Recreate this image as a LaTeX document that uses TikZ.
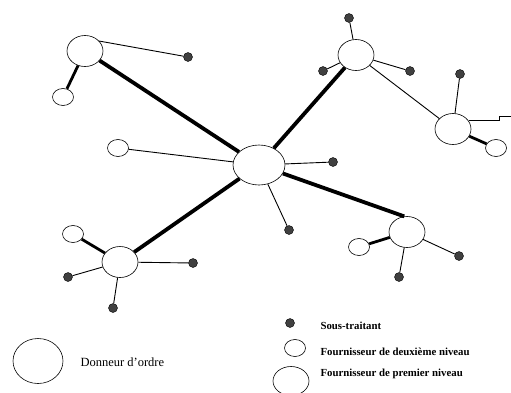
\documentclass[tikz,border=0pt]{standalone}
\usepackage{fontspec}
\setmainfont{Liberation Serif}
\usepackage{tikz}
\usetikzlibrary{shapes.geometric}
\tikzset{
  donneur/.style={ellipse,draw,semithick,fill=white,minimum width=52pt,minimum height=40pt,inner sep=0pt},
  premier/.style={ellipse,draw,semithick,fill=white,minimum width=36pt,minimum height=31pt,inner sep=0pt},
  deuxieme/.style={ellipse,draw,semithick,fill=white,minimum width=21pt,minimum height=17pt,inner sep=0pt},
  soustraitant/.style={circle,draw=black,fill=black!75,minimum size=9pt,inner sep=0pt},
  fort/.style={line width=3.8pt},
  moyen/.style={line width=2.8pt},
  fin/.style={line width=0.9pt},
  legende/.style={anchor=west,font=\bfseries\fontsize{10.8}{13}\selectfont}
}
\begin{document}
\begin{tikzpicture}[x=1pt,y=-1pt]
\useasboundingbox (0,0) rectangle (511,392);
\node[donneur] (C) at (259,165) {};
\foreach \nom/\x/\y in {F1/85/51,F2/356/55,F3/453/129,F4/407/232,F5/120/262}
{
    \node[premier] (\nom) at (\x,\y) {};
}
\foreach \nom/\x/\y in {D1/63/97,D2/118/148,D3/496/148,D4/359/247,D5/73/234}
{
    \node[deuxieme] (\nom) at (\x,\y) {};
}
\foreach \nom/\x/\y in {S1/188/57,S2/349/18,S3/323/71,S4/410/71,S5/460/74,S6/333/162,S7/289/230,S8/459/256,S9/399/277,S10/193/263,S11/68/277,S12/113/308}
{
    \node[soustraitant] (\nom) at (\x,\y) {};
}
\coordinate (E) at (511,116);
% liaisons
\draw[fort] (C) -- (F1);
\draw[fort] (C) -- (F2);
\draw[fort] (C) -- (F4.100);
\draw[fort] (C) -- (F5);
\foreach \a/\b in {F1/D1,F3/D3,F4/D4,F5/D5}
{
    \draw[moyen] (\a) -- (\b);
}
\foreach \a/\b in {C/D2,C/S6,C/S7,F1.35/S1,F2/S2,F2/S3,F2/S4,F2/F3,F3/S5,F4/S8,F4/S9,F5/S10,F5/S11,F5/S12}
{
    \draw[fin] (\a) -- (\b);
}
\draw[fin] (F3.28) -- ++(31,0) |- (E);
% legende
\node[donneur,minimum width=50pt,minimum height=45pt] (LD) at (38,361) {};
\node[anchor=west,font=\fontsize{12.5}{15}\selectfont] (TD) at (77,362) {Donneur d'ordre};
\node[soustraitant] (LS) at (290,323) {};
\node[legende] (TS) at (317,326) {Sous-traitant};
\node[deuxieme] (L2) at (295,348) {};
\node[legende] (T2) at (317,352) {Fournisseur de deuxième niveau};
\node[premier,minimum height=29pt] (L1) at (291,381) {};
\node[legende] (T1) at (317,374) {Fournisseur de premier niveau};
\end{tikzpicture}
\end{document}
